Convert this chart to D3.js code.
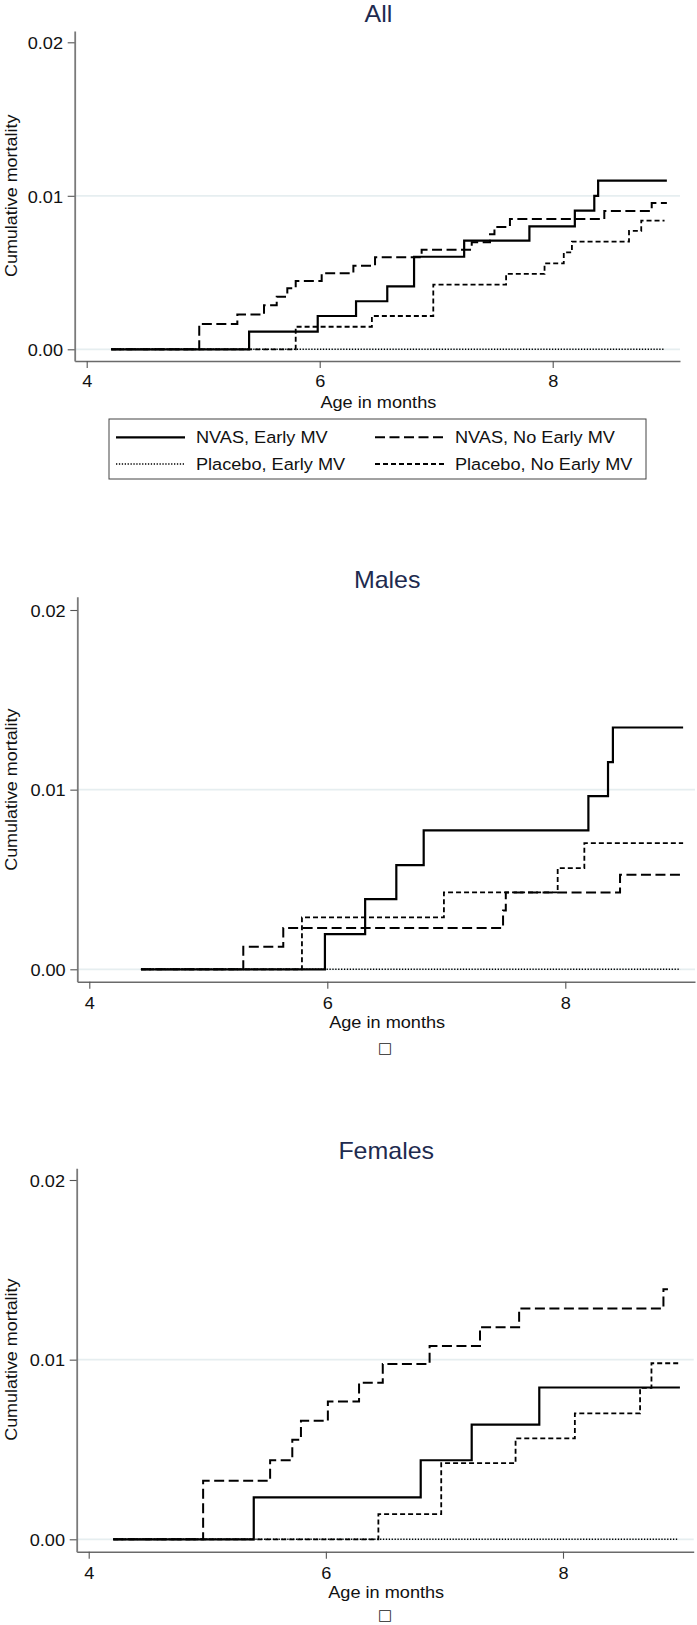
<!DOCTYPE html>
<html><head><meta charset="utf-8">
<script src="https://cdn.jsdelivr.net/npm/d3@7"></script>
<style>html,body{margin:0;padding:0;background:#fff;}svg{display:block;}</style>
</head><body>
<script>
// ---------- DATA ----------
const panelTitles = ["All", "Males", "Females"];
const seriesNames = ["NVAS, Early MV", "NVAS, No Early MV", "Placebo, Early MV", "Placebo, No Early MV"];
const xTicks = [4, 6, 8];
const yTicks = [0, 0.01, 0.02];
const xLabel = "Age in months";
const yLabel = "Cumulative mortality";

// start / end ages per panel, for each series (order as seriesNames)
const allStart = [4.21, 4.21, 4.21, 4.21];
const allEnd   = [8.98, 8.98, 8.96, 8.96];
const malesStart = [4.434, 4.434, 4.434, 4.434];
const malesEnd   = [8.99, 8.99, 8.967, 8.99];
const femalesStart = [4.207, 4.207, 4.207, 4.207];
const femalesEnd   = [8.986, 8.885, 8.975, 8.986];

// step events [age, cumulative mortality]
const allNvasEarly = [[5.394,0.00115],[5.983,0.00217],[6.312,0.00313],[6.58,0.00410],[6.81,0.00603],[7.24,0.00708],[7.80,0.00801],[8.19,0.00903],[8.357,0.0100],[8.39,0.01099]];
const allNvasNoEarly = [[4.966,0.00165],[5.293,0.00226],[5.522,0.00287],[5.631,0.00343],[5.722,0.00397],[5.794,0.00445],[6.017,0.00495],[6.289,0.00545],[6.475,0.00599],[6.875,0.00649],[7.305,0.00697],[7.462,0.00749],[7.50,0.00797],[7.633,0.00849],[8.443,0.00901],[8.85,0.00953]];
const allPlaceboEarly = [];
const allPlaceboNoEarly = [[5.794,0.00147],[6.448,0.00217],[6.975,0.00421],[7.60,0.00491],[7.93,0.00560],[8.095,0.00632],[8.165,0.00701],[8.655,0.00771],[8.76,0.00838]];

const malesNvasEarly = [[5.98,0.00196],[6.318,0.00391],[6.58,0.00580],[6.81,0.00773],[8.194,0.00964],[8.359,0.01153],[8.40,0.01346]];
const malesNvasNoEarly = [[5.294,0.00126],[5.63,0.00230],[7.477,0.00328],[7.50,0.00428],[8.46,0.00526]];
const malesPlaceboEarly = [];
const malesPlaceboNoEarly = [[5.787,0.00289],[6.98,0.00428],[7.936,0.00563],[8.16,0.00702]];

const femalesNvasEarly = [[5.392,0.00233],[6.80,0.00440],[7.23,0.00638],[7.80,0.00845]];
const femalesNvasNoEarly = [[4.965,0.00326],[5.53,0.00440],[5.717,0.00554],[5.79,0.00660],[6.017,0.00767],[6.28,0.00871],[6.48,0.00976],[6.875,0.01076],[7.30,0.01181],[7.63,0.01285],[8.847,0.01392]];
const femalesPlaceboEarly = [];
const femalesPlaceboNoEarly = [[6.443,0.00140],[6.973,0.00424],[7.60,0.00562],[8.10,0.00701],[8.65,0.00843],[8.746,0.00980]];

// ---------- LAYOUT / STYLE ----------
const W = 697, H = 1625;
const FONT = "'Liberation Sans', Arial, Helvetica, sans-serif";
const STRETCH = 1.1;
const styles = [
  {dash: null, width: 2.2},
  {dash: "10,4.5", width: 2},
  {dash: "1.3,1.6", width: 1.6},
  {dash: "5,3", width: 1.8}
];
const drawOrder = [2, 3, 1, 0];

const panels = [
  {title: panelTitles[0], starts: allStart, ends: allEnd,
   data: [allNvasEarly, allNvasNoEarly, allPlaceboEarly, allPlaceboNoEarly],
   left: 74.7, right: 680, top: 31, bottom: 361, x4: 86.7, x8: 552.7, y0: 349.3, y2: 42.3,
   titleBase: 21.7, tickBase: 26.3, xlabBase: 408, ylabRight: 63, box: null, legend: true},
  {title: panelTitles[1], starts: malesStart, ends: malesEnd,
   data: [malesNvasEarly, malesNvasNoEarly, malesPlaceboEarly, malesPlaceboNoEarly],
   left: 77.3, right: 695, top: 596.7, bottom: 981.7, x4: 89.3, x8: 565.3, y0: 969.3, y2: 610,
   titleBase: 588.3, tickBase: 27.6, xlabBase: 1028, ylabRight: 65.7, box: 1053, legend: false},
  {title: panelTitles[2], starts: femalesStart, ends: femalesEnd,
   data: [femalesNvasEarly, femalesNvasNoEarly, femalesPlaceboEarly, femalesPlaceboNoEarly],
   left: 76.7, right: 693.7, top: 1168.3, bottom: 1551.7, x4: 88.7, x8: 563, y0: 1539.3, y2: 1180,
   titleBase: 1159.3, tickBase: 27.6, xlabBase: 1598, ylabRight: 65, box: 1620, legend: false}
];

const svg = d3.select("body").append("svg").attr("width", W).attr("height", H)
  .attr("font-family", FONT);

function label(g, x, y, s, size, anchor, color, rot, stretch) {
  const k = stretch || STRETCH;
  return g.append("text")
    .attr("transform", `translate(${x},${y})` + (rot ? ` rotate(${rot})` : "") + ` scale(${k},1)`)
    .attr("text-anchor", anchor).attr("font-size", size).attr("fill", color).text(s);
}

panels.forEach(p => {
  const g = svg.append("g");
  const x0 = d3.scaleLinear().domain([4, 8]).range([p.x4, p.x8]);
  const x = d3.scaleLinear().domain([x0.invert(p.left), x0.invert(p.right)]).range([p.left, p.right]);
  const y0s = d3.scaleLinear().domain([0, 0.02]).range([p.y0, p.y2]);
  const y = d3.scaleLinear().domain([y0s.invert(p.bottom), y0s.invert(p.top)]).range([p.bottom, p.top]);

  // gridlines at 0 and 0.01
  g.selectAll("line.grid").data([0, 0.01]).enter().append("line")
    .attr("x1", p.left).attr("x2", p.right)
    .attr("y1", d => y(d)).attr("y2", d => y(d))
    .attr("stroke", "#e6eef0").attr("stroke-width", 1.8);

  // series
  const line = d3.line().x(d => x(d[0])).y(d => y(d[1])).curve(d3.curveStepAfter);
  drawOrder.forEach(i => {
    const steps = p.data[i];
    const last = steps.length ? steps[steps.length - 1][1] : 0;
    const pts = [[p.starts[i], 0]].concat(steps).concat([[p.ends[i], last]]);
    g.append("path").attr("d", line(pts)).attr("fill", "none")
      .attr("stroke", "#000").attr("stroke-width", styles[i].width)
      .attr("stroke-dasharray", styles[i].dash);
  });

  // x axis
  const xa = g.append("g").attr("transform", `translate(0,${p.bottom})`)
    .call(d3.axisBottom(x).tickValues(xTicks).tickSize(7).tickSizeOuter(0).tickFormat(d3.format("d")));
  xa.select(".domain").attr("stroke", "#6a6a6a").attr("stroke-width", 1.6);
  xa.selectAll(".tick line").attr("stroke", "#555").attr("stroke-width", 1.1);
  xa.selectAll(".tick text").attr("y", null).attr("dy", null)
    .attr("transform", `translate(0,${p.tickBase}) scale(${STRETCH},1)`)
    .attr("font-size", 16.5).attr("font-family", FONT).attr("fill", "#111");

  // y axis
  const ya = g.append("g").attr("transform", `translate(${p.left},0)`)
    .call(d3.axisLeft(y).tickValues(yTicks).tickSize(7).tickSizeOuter(0).tickFormat(d3.format(".2f")));
  ya.select(".domain").attr("stroke", "#7a7a7a").attr("stroke-width", 1.8);
  ya.selectAll(".tick line").attr("stroke", "#555").attr("stroke-width", 1.1);
  ya.selectAll(".tick text").attr("x", null).attr("dy", null)
    .attr("transform", `translate(${p.ylabRight - p.left},6.3) scale(${STRETCH},1)`)
    .attr("font-size", 16.5).attr("font-family", FONT).attr("fill", "#111");

  // titles and labels
  const cx = (p.left + p.right) / 2;
  label(g, cx + 1, p.titleBase, p.title, 24, "middle", "#1e2b4f", null, 1.04);
  label(g, cx + 1, p.xlabBase, xLabel, 16.5, "middle", "#111");
  label(g, 16.5, y(0.01), yLabel, 16.3, "middle", "#111", -90);

  if (p.box) {
    g.append("text").attr("x", 385).attr("y", p.box).attr("text-anchor", "middle")
      .attr("font-family", "'DejaVu Sans', sans-serif").attr("font-size", 15).attr("fill", "#222").text("\u25A1");
  }

  if (p.legend) {
    const lg = g.append("g");
    lg.append("rect").attr("x", 109).attr("y", 419).attr("width", 537).attr("height", 60)
      .attr("fill", "#fff").attr("stroke", "#444").attr("stroke-width", 1);
    const cols = [116, 375], rows = [437.3, 464];
    [0, 1, 2, 3].forEach(i => {
      const cX = cols[i % 2], rY = rows[Math.floor(i / 2)];
      lg.append("line").attr("x1", cX).attr("x2", cX + 69).attr("y1", rY).attr("y2", rY)
        .attr("stroke", "#000").attr("stroke-width", styles[i].width)
        .attr("stroke-dasharray", styles[i].dash);
      label(lg, cX + 80, rY + 6, seriesNames[i], 16.5, "start", "#111");
    });
  }
});
</script>
</body></html>
